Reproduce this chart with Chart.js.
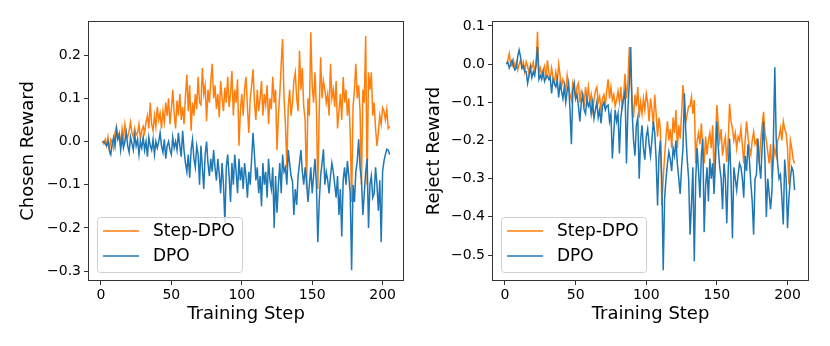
<!DOCTYPE html>
<html>
<head>
<meta charset="utf-8">
<script src="https://cdn.jsdelivr.net/npm/chart.js@4/dist/chart.umd.min.js"></script>
<style>
  html, body { margin: 0; padding: 0; background: #fff; }
  #wrap { position: relative; width: 830px; height: 346px; }
  canvas { position: absolute; top: 0; }
</style>
</head>
<body>
<div id="wrap">
  <canvas id="chosenChart" width="415" height="346" style="left:0"></canvas>
  <canvas id="rejectChart" width="415" height="346" style="left:415px"></canvas>
</div>
<script>
// training steps (x categories)
const steps = Array.from({ length: 205 }, (_, i) => i + 1);

const xTicks = [0, 50, 100, 150, 200];
const chosenTicks = [0.2, 0.1, 0.0, -0.1, -0.2, -0.3];
const rejectTicks = [0.1, 0.0, -0.1, -0.2, -0.3, -0.4, -0.5];
const seriesNames = ['Step-DPO', 'DPO'];

// chosen reward, Step-DPO
const chosenStep = [
  0.0, -0.005, 0.005, -0.01, 0.01, -0.02, 0.005, 0.0, -0.015, 0.02,
  0.035, 0.01, 0.02, -0.01, 0.03, 0.005, 0.04, 0.015, 0.01, 0.025,
  0.045, 0.02, 0.01, 0.03, 0.015, 0.02, 0.04, 0.005, 0.025, 0.035,
  0.02, 0.045, 0.06, 0.03, 0.09, 0.04, 0.025, 0.06, 0.035, 0.08,
  0.05, 0.065, 0.03, 0.07, 0.045, 0.09, 0.06, 0.1, 0.04, 0.075,
  0.12, 0.065, 0.03, 0.095, 0.06, 0.11, 0.05, 0.08, 0.04, 0.105,
  0.155, 0.07, 0.13, 0.025, 0.09, 0.06, 0.11, 0.075, 0.15, 0.09,
  0.085, 0.17, 0.11, 0.13, 0.047, 0.12, 0.09, 0.14, 0.18, 0.1,
  0.13, 0.075, 0.11, 0.056, 0.14, 0.1, 0.07, 0.125, 0.09, 0.15,
  0.08, 0.11, 0.163, 0.06, 0.12, 0.09, 0.144, -0.01, 0.07, 0.11,
  0.06, 0.12, 0.15, 0.08, 0.02, 0.1, 0.13, 0.167, 0.09, 0.05,
  0.12, 0.07, 0.1, 0.14, 0.06, 0.11, 0.085, 0.13, 0.04, 0.1,
  0.075, 0.15, 0.09, 0.12, -0.02, 0.06, 0.11, 0.18, 0.237, 0.1,
  0.04, -0.06, 0.08, 0.12, 0.06, 0.09, 0.14, 0.16, 0.1, 0.07,
  0.21, 0.12, 0.17, 0.08, 0.05, -0.11, 0.1, 0.06, 0.253, 0.13,
  0.09, 0.16, 0.08, -0.11, 0.07, 0.195, 0.1, 0.14, 0.12, 0.09,
  0.11, 0.06, 0.18, 0.1, 0.12, 0.08, 0.14, 0.03, 0.07, 0.11,
  0.05, 0.149, 0.09, 0.12, 0.06, 0.1, 0.02, -0.14, 0.08, 0.12,
  0.18, 0.1, 0.13, 0.07, -0.1, 0.12, 0.09, 0.244, -0.1, 0.16,
  0.12, 0.16, 0.06, 0.09, 0.03, -0.01, 0.02, 0.06, 0.04, 0.078,
  0.07, 0.05, 0.074, 0.03, 0.035
];

// chosen reward, DPO
const chosenDpo = [
  0.0, 0.0, -0.005, -0.01, 0.0, -0.02, -0.03, -0.005, 0.01, -0.01,
  0.028, 0.005, 0.015, -0.02, 0.01, -0.015, 0.0, 0.02, -0.01, -0.025,
  0.01, -0.005, -0.02, 0.015, -0.01, 0.005, -0.03, 0.0, -0.015, 0.01,
  -0.02, 0.0, -0.035, 0.01, -0.01, -0.02, 0.005, -0.03, 0.0, -0.015,
  0.0, 0.02, -0.01, -0.025, 0.005, -0.04, -0.01, 0.0, -0.02, -0.03,
  0.01, -0.015, 0.0, -0.02, 0.02, -0.01, -0.035, 0.025, -0.02, -0.05,
  -0.07, -0.03, -0.084, -0.02, 0.005, -0.04, -0.06, -0.01, -0.03, -0.1,
  -0.01, -0.06, -0.11, -0.03, 0.0, -0.05, -0.08, -0.04, -0.07, -0.02,
  -0.06, -0.09, -0.04, -0.075, -0.12, -0.05, -0.1, -0.188, -0.06, -0.03,
  -0.08, -0.14, -0.05, -0.1, -0.03, -0.07, -0.12, -0.04, -0.09, -0.06,
  -0.11, -0.05, -0.08, -0.13, -0.07, -0.1, -0.04, 0.02, -0.03, -0.09,
  -0.06, -0.12, -0.08, -0.15, -0.05, -0.1, -0.07, -0.13, -0.04, -0.09,
  -0.11, -0.06, -0.2, -0.08, -0.165, -0.1, -0.05, -0.12, -0.03, -0.07,
  -0.06, -0.1, -0.02, -0.05, -0.08, -0.092, -0.17, -0.11, -0.147, -0.08,
  -0.05, -0.02, -0.07, -0.1, -0.06, -0.09, -0.14, -0.1, -0.06, -0.12,
  -0.08, -0.04, -0.1, -0.233, -0.14, -0.08, -0.05, -0.018, -0.1, -0.07,
  -0.09, -0.12, -0.08, -0.05, -0.07, -0.1, -0.13, -0.08, -0.17, -0.11,
  -0.22, -0.09, -0.06, -0.1, -0.045, -0.08, -0.12, -0.298, -0.1, -0.14,
  -0.07, -0.045, 0.005, -0.06, -0.09, -0.17, -0.12, -0.07, -0.04, -0.2,
  -0.1, -0.08, -0.13, -0.12, -0.06, -0.1, -0.16, -0.09, -0.233, -0.07,
  -0.045, -0.03, -0.018, -0.02, -0.03
];

// reject reward, Step-DPO
const rejectStep = [
  0.0, 0.01, 0.028, 0.0, -0.005, 0.01, -0.01, 0.005, -0.015, 0.0,
  0.01, -0.01, 0.005, -0.02, 0.006, -0.005, -0.025, 0.0, -0.01, 0.005,
  -0.02, -0.005, 0.085, -0.025, -0.01, -0.03, -0.015, -0.005, -0.04, 0.01,
  -0.02, -0.04, -0.01, -0.035, -0.05, -0.02, -0.045, 0.0, -0.03, -0.06,
  -0.04, -0.05, -0.07, -0.03, -0.06, -0.08, -0.094, -0.05, -0.07, -0.09,
  -0.06, -0.05, -0.1, -0.07, -0.08, -0.11, -0.06, -0.09, -0.06, -0.1,
  -0.08, -0.12, -0.094, -0.07, -0.06, -0.1, -0.085, -0.12, -0.09, -0.08,
  -0.11, -0.07, -0.04, -0.09, -0.06, -0.094, -0.08, -0.11, -0.094, -0.07,
  -0.1, -0.06, -0.12, -0.08, -0.025, -0.09, -0.05, 0.045, -0.02, -0.1,
  -0.14, -0.08, -0.11, -0.06, -0.14, -0.1, -0.13, -0.09, -0.12, -0.077,
  -0.1, -0.15, -0.09, -0.12, -0.16, -0.08, -0.13, -0.19, -0.14, -0.17,
  -0.37, -0.3, -0.24, -0.19, -0.15, -0.2, -0.17, -0.22, -0.14, -0.18,
  -0.12, -0.22, -0.16, -0.195, -0.13, -0.055, -0.1, -0.15, -0.13, -0.11,
  -0.11, -0.086, -0.13, -0.094, -0.26, -0.2, -0.18, -0.21, -0.155, -0.22,
  -0.26, -0.19, -0.237, -0.2, -0.18, -0.22, -0.16, -0.29, -0.2, -0.107,
  -0.16, -0.2, -0.17, -0.24, -0.21, -0.19, -0.256, -0.2, -0.104, -0.15,
  -0.168, -0.2, -0.18, -0.22, -0.19, -0.2, -0.168, -0.21, -0.26, -0.2,
  -0.15, -0.19, -0.22, -0.237, -0.2, -0.177, -0.21, -0.2, -0.23, -0.256,
  -0.2, -0.16, -0.125, -0.18, -0.2, -0.23, -0.26, -0.21, -0.3, -0.25,
  -0.22, -0.24, -0.2, -0.19, -0.168, -0.2, -0.15, -0.17, -0.18, -0.22,
  -0.316, -0.2, -0.22, -0.25, -0.26
];

// reject reward, DPO
const rejectDpo = [
  0.0, 0.005, -0.01, 0.0, 0.01, -0.005, -0.015, -0.01, 0.02, 0.037,
  0.02, -0.01, -0.005, -0.02, -0.02, -0.05, -0.03, -0.01, -0.035, -0.02,
  -0.03, 0.0, 0.045, -0.04, -0.03, -0.04, -0.02, -0.045, -0.035, -0.03,
  -0.04, -0.035, -0.077, -0.04, -0.05, -0.06, -0.04, -0.087, -0.05, -0.07,
  -0.09, -0.06, -0.1, -0.07, -0.05, -0.12, -0.21, -0.07, -0.05, -0.09,
  -0.08, -0.11, -0.15, -0.1, -0.08, -0.12, -0.13, -0.09, -0.11, -0.1,
  -0.13, -0.1, -0.142, -0.12, -0.1, -0.14, -0.12, -0.155, -0.11, -0.1,
  -0.12, -0.11, -0.107, -0.15, -0.13, -0.247, -0.18, -0.12, -0.15, -0.13,
  -0.234, -0.14, -0.11, -0.09, -0.07, -0.26, -0.12, -0.05, 0.045, -0.125,
  -0.2, -0.24, -0.16, -0.14, -0.3, -0.2, -0.16, -0.22, -0.25, -0.19,
  -0.17, -0.21, -0.24, -0.2, -0.15, -0.18, -0.25, -0.37, -0.24, -0.2,
  -0.3, -0.54, -0.35, -0.3, -0.26, -0.23, -0.25, -0.28, -0.22, -0.24,
  -0.2, -0.26, -0.3, -0.34, -0.27, -0.22, -0.077, -0.18, -0.25, -0.3,
  -0.447, -0.37, -0.27, -0.516, -0.3, -0.22, -0.28, -0.35, -0.24, -0.195,
  -0.44, -0.32, -0.27, -0.36, -0.247, -0.3, -0.26, -0.34, -0.25, -0.15,
  -0.22, -0.27, -0.3, -0.38, -0.26, -0.3, -0.417, -0.28, -0.195, -0.3,
  -0.456, -0.27, -0.3, -0.33, -0.29, -0.26, -0.27, -0.3, -0.35, -0.24,
  -0.28, -0.21, -0.25, -0.31, -0.36, -0.447, -0.3, -0.29, -0.195, -0.26,
  -0.3, -0.22, -0.15, -0.25, -0.4, -0.3, -0.34, -0.38, -0.33, -0.2,
  -0.008, -0.2, -0.26, -0.3, -0.29, -0.35, -0.42, -0.25, -0.3, -0.43,
  -0.35, -0.3, -0.27, -0.28, -0.33
];

const ORANGE = '#ff7f0e';
const BLUE = '#1f77b4';
const FONT = 'DejaVu Sans';

// axes frame drawn on all four sides, like matplotlib spines
const framePlugin = {
    id: 'frame',
    afterDraw(chart) {
        const a = chart.chartArea;
        const ctx = chart.ctx;
        ctx.save();
        ctx.strokeStyle = '#333';
        ctx.lineWidth = 1;
        ctx.strokeRect(a.left + 0.5, a.top + 0.5, a.right - a.left - 1, a.bottom - a.top - 1);
        ctx.restore();
    }
};

// legend box in the lower left corner of the plot area
const legendPlugin = {
    id: 'boxLegend',
    afterDraw(chart) {
        const a = chart.chartArea;
        const ctx = chart.ctx;
        const x = a.left + 9, w = 145, h = 55;
        const y = a.bottom - 9 - h;
        ctx.save();
        ctx.fillStyle = 'rgba(255,255,255,0.8)';
        ctx.strokeStyle = '#d0d0d0';
        ctx.lineWidth = 1;
        ctx.beginPath();
        ctx.roundRect(x + 0.5, y + 0.5, w, h, 3);
        ctx.fill();
        ctx.stroke();
        ctx.font = '17px "' + FONT + '"';
        ctx.textBaseline = 'middle';
        ctx.fillStyle = '#000';
        const colors = [ORANGE, BLUE];
        seriesNames.forEach((name, i) => {
            const ry = y + 14 + i * 25;
            ctx.strokeStyle = colors[i];
            ctx.lineWidth = 1.5;
            ctx.beginPath();
            ctx.moveTo(x + 6, ry);
            ctx.lineTo(x + 42, ry);
            ctx.stroke();
            ctx.fillText(name, x + 56, ry + 1);
        });
        ctx.restore();
    }
};

function makeChart(id, stepVals, dpoVals, yMin, yMax, yTicks, yTitle, axisWidth, padRight, titlePad) {
    const toPoints = vals => vals.map((v, i) => ({ x: steps[i], y: v }));
    return new Chart(document.getElementById(id), {
        type: 'line',
        data: {
            datasets: [{
                label: seriesNames[0],
                data: toPoints(stepVals),
                borderColor: ORANGE,
                borderWidth: 1.5,
                pointRadius: 0,
                order: 1
            }, {
                label: seriesNames[1],
                data: toPoints(dpoVals),
                borderColor: BLUE,
                borderWidth: 1.5,
                pointRadius: 0,
                order: 0
            }]
        },
        options: {
            responsive: false,
            animation: false,
            layout: { padding: { left: 0, top: 21, right: padRight, bottom: 0 } },
            plugins: { legend: { display: false }, tooltip: { enabled: false } },
            scales: {
                x: {
                    type: 'linear',
                    min: -9.2,
                    max: 215.2,
                    afterBuildTicks: s => { s.ticks = xTicks.map(v => ({ value: v })); },
                    afterFit: s => { s.height = 65; },
                    grid: { drawOnChartArea: false, drawTicks: true, tickLength: 4, color: '#333' },
                    border: { display: false },
                    ticks: { color: '#000', padding: 2, maxRotation: 0, font: { family: FONT, size: 14 } },
                    title: { display: true, text: 'Training Step', color: '#000', padding: { top: 0, bottom: 21 },
                        font: { family: FONT, size: 18 } }
                },
                y: {
                    min: yMin,
                    max: yMax,
                    afterBuildTicks: s => { s.ticks = yTicks.map(v => ({ value: v })); },
                    afterFit: s => { s.width = axisWidth; },
                    grid: { drawOnChartArea: false, drawTicks: true, tickLength: 4, color: '#333' },
                    border: { display: false },
                    ticks: { color: '#000', padding: 3, font: { family: FONT, size: 14 },
                        callback: v => (v < 0 ? '\u2212' + Math.abs(v).toFixed(1) : v.toFixed(1)) },
                    title: { display: true, text: yTitle, color: '#000', padding: { top: titlePad, bottom: 0 },
                        font: { family: FONT, size: 18 } }
                }
            }
        },
        plugins: [framePlugin, legendPlugin]
    });
}

makeChart('chosenChart', chosenStep, chosenDpo, -0.323, 0.279, chosenTicks, 'Chosen Reward', 88, 11, 18);
makeChart('rejectChart', rejectStep, rejectDpo, -0.568, 0.113, rejectTicks, 'Reject Reward', 77, 21, 9);
</script>
</body>
</html>
